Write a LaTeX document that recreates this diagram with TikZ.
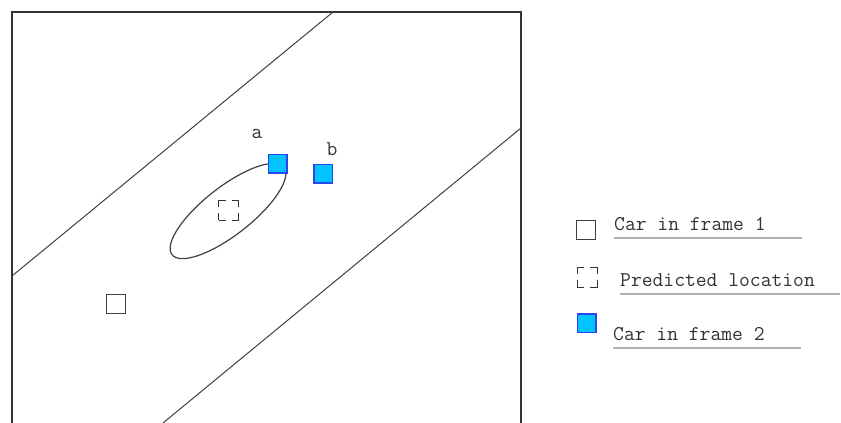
\documentclass[tikz,border=0pt]{standalone}
\usepackage{fontspec}
\usetikzlibrary{shapes.geometric}
\definecolor{carblue}{RGB}{40,70,235}
\definecolor{carcyan}{RGB}{0,195,255}
\begin{document}
\begin{tikzpicture}[x=1pt,y=-1pt,
  box/.style={draw=black!75, line width=1.3pt, minimum size=18.5pt, inner sep=0pt, fill=white},
  carb/.style={draw=carblue, fill=carcyan, line width=1.5pt, minimum size=18.5pt, inner sep=0pt},
  pred/.style={draw=black!80, line width=1pt, dash pattern=on 14pt off 6pt, dash phase=7pt, minimum size=20pt, inner sep=0pt},
  lbl/.style={font=\ttfamily\fontsize{21}{24}\selectfont, text=black!80, inner sep=0pt},
  uline/.style={draw=black!30, line width=2pt},
  road/.style={draw=black!75, line width=1pt},
  frame/.style={draw=black!80, line width=1.3pt}]
\useasboundingbox (0,0) rectangle (841,423);
% frame and road
\draw[frame] (12,423) -- (12,12) -- (521,12) -- (521,423);
\draw[road] (12,276) -- (333,12);
\draw[road] (521,128) -- (163,423);
% uncertainty ellipse
\node[ellipse, draw=black!75, line width=1.2pt, minimum width=142pt, minimum height=48pt, inner sep=0pt, rotate=38] (ell) at (228,211) {};
% cars
\node[box] (f1) at (116,304) {};
\node[pred] (p) at (228.5,210) {};
\node[carb] (a) at (277.5,163.5) {};
\node[carb] (b) at (323,173.5) {};
\node[lbl, anchor=base] (la) at (257,138) {a};
\node[lbl, anchor=base] (lb) at (332,155) {b};
% legend
\node[box] (k1) at (586,230) {};
\node[pred] (k2) at (587,277) {};
\node[carb] (k3) at (586.5,323) {};
\node[lbl, anchor=base west] (t1) at (614,230) {Car in frame 1};
\node[lbl, anchor=base west] (t2) at (620,286) {Predicted location};
\node[lbl, anchor=base west] (t3) at (613,340) {Car in frame 2};
\coordinate (u1a) at (614,238); \coordinate (u1b) at (802,238);
\coordinate (u2a) at (620,294); \coordinate (u2b) at (840,294);
\coordinate (u3a) at (613,348); \coordinate (u3b) at (801,348);
\draw[uline] (u1a) -- (u1b);
\draw[uline] (u2a) -- (u2b);
\draw[uline] (u3a) -- (u3b);
\end{tikzpicture}
\end{document}
